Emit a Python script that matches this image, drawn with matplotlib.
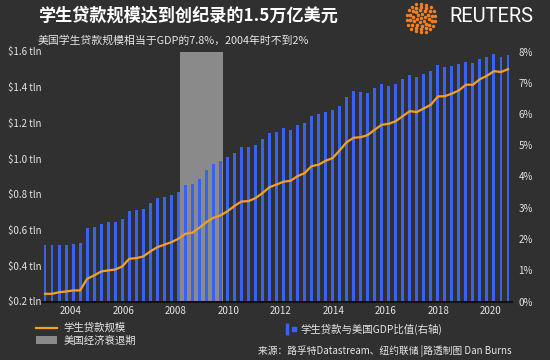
import numpy as np
import matplotlib
matplotlib.use('Agg')
from matplotlib import pyplot as plt
from matplotlib.lines import Line2D
from matplotlib.patches import Patch
from matplotlib.legend_handler import HandlerTuple

plt.rcParams['font.family'] = ['Noto Sans CJK SC', 'DejaVu Sans']

# quarterly, 2003Q1 .. 2019Q3
quarters = [f'{y}Q{q}' for y in range(2003, 2020) for q in range(1, 5)][:67]

# student loans as share of US GDP (%), right axis
loan_pct = [1.80, 1.80, 1.80, 1.82, 1.85, 1.88,
            2.34, 2.39, 2.48, 2.56, 2.56, 2.63,
            2.90, 2.92, 2.97, 3.15, 3.31, 3.34,
            3.41, 3.51, 3.73, 3.77, 3.93, 4.20,
            4.41, 4.50, 4.62, 4.75, 4.96, 4.94,
            5.00, 5.21, 5.39, 5.44, 5.55, 5.50,
            5.64, 5.70, 5.95, 6.01, 6.08, 6.12,
            6.27, 6.55, 6.73, 6.69, 6.68, 6.82,
            6.97, 6.91, 6.95, 7.13, 7.24, 7.19,
            7.29, 7.39, 7.56, 7.52, 7.54, 7.59,
            7.68, 7.62, 7.75, 7.83, 7.93, 7.83, 7.89]

# student loan balance ($ trillion), left axis
loan_tln = [0.243, 0.243, 0.252, 0.256, 0.262, 0.262,
            0.327, 0.346, 0.368, 0.374, 0.379, 0.396,
            0.439, 0.443, 0.452, 0.480, 0.504, 0.518,
            0.532, 0.551, 0.579, 0.585, 0.613, 0.644,
            0.669, 0.682, 0.705, 0.735, 0.760, 0.762,
            0.779, 0.807, 0.840, 0.855, 0.871, 0.876,
            0.902, 0.919, 0.958, 0.966, 0.988, 1.003,
            1.046, 1.092, 1.117, 1.120, 1.132, 1.162,
            1.190, 1.195, 1.210, 1.238, 1.266, 1.261,
            1.281, 1.302, 1.348, 1.350, 1.364, 1.382,
            1.414, 1.414, 1.445, 1.464, 1.490, 1.485, 1.501]

year_labels = ['2004', '2006', '2008', '2010', '2012', '2014', '2016', '2018', '2020']
left_ticks = [0.2, 0.4, 0.6, 0.8, 1.0, 1.2, 1.4, 1.6]
right_ticks = [0, 1, 2, 3, 4, 5, 6, 7, 8]

BG = '#303030'
BLUE = '#3a62f0'
ORANGE = '#f5a01e'
GREY = '#8a8a8a'
TXT = '#e6e6e6'

x = np.arange(len(quarters))

fig = plt.figure(figsize=(5.5, 3.6), dpi=100, facecolor=BG)
ax = fig.add_axes([41.5 / 550, 1 - 301.5 / 360, 470 / 550, 250 / 360])
ax.patch.set_visible(False)
ax2 = ax.twinx()

# recession shading (Dec 2007 - Jun 2009)
ax.axvspan(19.3, 25.4, color=GREY, lw=0, zorder=0)
ax.bar(x, loan_pct, width=0.42, color=BLUE, zorder=2)
ax.set_xlim(-0.5, 66.5)
ax.set_ylim(0, 8)
ax.set_yticks(right_ticks)
ax.set_yticklabels([f'{t}%' for t in right_ticks])
ax.yaxis.tick_right()

# year labels sit a little off the quarter grid in the original
year_px = [280.9 + 26.25 * (int(y) - 2012) for y in year_labels]
ax.set_xticks([(p - 45) / 7.02 for p in year_px])
ax.set_xticklabels(year_labels)

ax2.plot(x, loan_tln, color=ORANGE, lw=1.6, zorder=3)
ax2.set_ylim(0.2, 1.6)
ax2.set_yticks(left_ticks)
ax2.set_yticklabels([f'${t:.1f} tln' for t in left_ticks])
ax2.yaxis.tick_left()

for a in (ax, ax2):
    for s in a.spines.values():
        s.set_visible(False)
    a.tick_params(length=0, colors=TXT, labelsize=7)
ax.spines['bottom'].set_visible(True)
ax.spines['bottom'].set_color('#111111')
ax.spines['bottom'].set_linewidth(1.5)
ax.tick_params(axis='x', pad=3)
ax.tick_params(axis='y', pad=5)
ax2.tick_params(axis='y', pad=24)
for lab in ax2.get_yticklabels():
    lab.set_horizontalalignment('left')

# titles
fig.text(38 / 550, 1 - 16 / 360, '学生贷款规模达到创纪录的1.5万亿美元', color='white',
         fontsize=12.3, fontweight='bold', va='center', ha='left')
fig.text(38 / 550, 1 - 40 / 360, '美国学生贷款规模相当于GDP的7.8%，2004年时不到2%', color=TXT,
         fontsize=7.8, va='center', ha='left')

# Reuters logo
lax = fig.add_axes([403 / 550, 1 - 35 / 360, 36 / 550, 34 / 360])
lax.set_aspect('equal')
lax.axis('off')
for r, n, s in [(0.0, 1, 6), (0.25, 6, 6), (0.45, 10, 7), (0.65, 14, 7), (0.85, 18, 6)]:
    ang = np.linspace(0, 2 * np.pi, n, endpoint=False) + r
    lax.scatter(r * np.cos(ang), r * np.sin(ang), s=s, color='#f58220', lw=0)
lax.set_xlim(-1, 1)
lax.set_ylim(-1, 1)
fig.text(449 / 550, 1 - 17 / 360, 'REUTERS', color='white', fontsize=14.5,
         family='Roboto', va='center', ha='left')

# legends
h_line = Line2D([], [], color=ORANGE, lw=1.6)
h_rec = Patch(facecolor=GREY, edgecolor='none')
fig.legend([h_line, h_rec], ['学生贷款规模', '美国经济衰退期'], loc='upper left',
           bbox_to_anchor=(36 / 550, 1 - 323 / 360), frameon=False, fontsize=7.5,
           labelcolor=TXT, handlelength=2.0, handletextpad=0.6, labelspacing=0.2,
           borderaxespad=0, borderpad=0)
h_bar1 = Line2D([], [], ls='none', marker='|', ms=8, mew=2.5, color=BLUE)
h_bar2 = Line2D([], [], ls='none', marker='s', ms=3, color=BLUE)
fig.legend([(h_bar1, h_bar2)], ['学生贷款与美国GDP比值(右轴)'], loc='upper left',
           bbox_to_anchor=(284 / 550, 1 - 324 / 360), frameon=False, fontsize=7.5,
           labelcolor=TXT, handlelength=1.2, handletextpad=0.4, borderaxespad=0,
           borderpad=0, handler_map={tuple: HandlerTuple(ndivide=None, pad=0.2)})

fig.text(512 / 550, 1 - 351 / 360, '来源：路孚特Datastream、纽约联储 |路透制图 Dan Burns',
         color=TXT, fontsize=7, va='center', ha='right')

fig.savefig('out.png', dpi=100, facecolor=BG)
